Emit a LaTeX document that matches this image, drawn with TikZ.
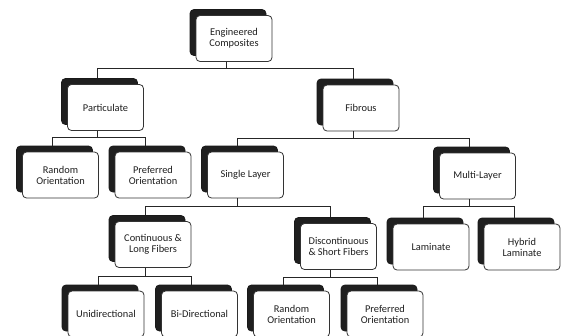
\documentclass[tikz,border=0pt]{standalone}
\usepackage{fontspec}
\setmainfont{Carlito}
\usetikzlibrary{shadows}
\tikzset{
  card/.style={rectangle, rounded corners=4pt, draw=black!80, line width=0.8pt,
    fill=white, minimum width=76pt, minimum height=46pt, align=center, inner sep=1pt,
    font=\fontsize{10.4}{11}\selectfont, text=black!88,
    copy shadow={shadow xshift=-6pt, shadow yshift=6pt, fill=black!88, draw=black!90}},
  link/.style={draw=black!85, line width=0.8pt}
}
\newcommand{\branch}[3]{%
  % #1 parent, #2 bar y, #3 list of children
  \coordinate (bar) at (0,#2);
  \draw[link] ([xshift=-8pt]#1.south) -- ([xshift=-8pt]#1.south |- bar);
  \foreach \c in {#3} {
    \draw[link] ([xshift=-8pt]#1.south |- bar) -| ([xshift=-8pt,yshift=6pt]\c.north);
  }%
}
\begin{document}
\begin{tikzpicture}[x=1pt,y=-1pt]
\useasboundingbox (0,0) rectangle (561,335);
\fill[white] (0,0) rectangle (561,335);

\node[card] (ec) at (234,38.5) {Engineered\\Composites};
\node[card] (part) at (105.5,107.5) {Particulate};
\node[card] (fib) at (361,108) {Fibrous};
\node[card] (ro1) at (60.5,175) {Random\\Orientation};
\node[card] (po1) at (153,175) {Preferred\\Orientation};
\node[card] (sl) at (245.5,175) {Single Layer};
\node[card] (ml) at (477.5,176) {Multi-Layer};
\node[card] (clf) at (153,244.5) {Continuous \&\\Long Fibers};
\node[card] (dsf) at (338.5,246.5) {Discontinuous\\\& Short Fibers};
\node[card] (lam) at (431,247) {Laminate};
\node[card] (hyb) at (522,247) {Hybrid\\Laminate};
\node[card] (uni) at (106,314) {Unidirectional};
\node[card] (bi) at (199.5,314) {Bi-Directional};
\node[card] (ro2) at (291.5,314) {Random\\Orientation};
\node[card] (po2) at (385,314) {Preferred\\Orientation};

\branch{ec}{68}{part,fib}
\branch{part}{137}{ro1,po1}
\branch{fib}{138}{sl,ml}
\branch{sl}{206}{clf,dsf}
\branch{ml}{206}{lam,hyb}
\branch{clf}{276}{uni,bi}
\branch{dsf}{277}{ro2,po2}
\end{tikzpicture}
\end{document}
